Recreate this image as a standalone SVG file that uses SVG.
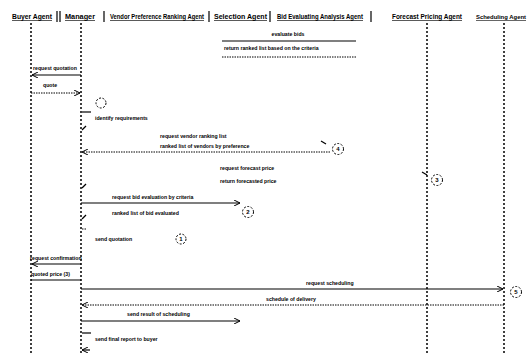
<svg xmlns="http://www.w3.org/2000/svg" width="530" height="354" viewBox="0 0 530 354">
<defs>
<style>
.hd{font-family:"Liberation Sans",Arial,sans-serif;font-size:6.5px;font-weight:bold;fill:#000;text-decoration:underline}
.sep{stroke:#000;stroke-width:1.2}
.life{stroke:#000;stroke-width:1.5;stroke-dasharray:2,2;fill:none}
.msg{font-family:"Liberation Sans",Arial,sans-serif;font-size:5.2px;font-weight:bold;fill:#000}
.solid{stroke:#000;stroke-width:1.2;fill:none}
.dot{stroke:#000;stroke-width:1;stroke-dasharray:1.5,1;fill:none}
.circ{stroke:#000;stroke-width:1;stroke-dasharray:2,1.5;fill:none}
.num{font-family:"Liberation Sans",Arial,sans-serif;font-size:6px;font-weight:bold;fill:#000;text-anchor:middle}
</style>
<marker id="ah" markerWidth="7" markerHeight="6" refX="6" refY="3" orient="auto" markerUnits="userSpaceOnUse">
<path d="M0,0 L6,3 L0,6" fill="none" stroke="#000" stroke-width="1"/>
</marker>
</defs>
<rect width="530" height="354" fill="#fff"/>
<g id="header">
<text class="hd" x="12" y="19" textLength="40" lengthAdjust="spacingAndGlyphs">Buyer Agent</text>
<line class="sep" x1="57" y1="11" x2="57" y2="22"/><line class="sep" x1="60" y1="11" x2="60" y2="22"/>
<text class="hd" x="65" y="19" textLength="30" lengthAdjust="spacingAndGlyphs">Manager</text>
<line class="sep" x1="104" y1="11" x2="104" y2="22"/>
<text class="hd" x="110" y="19" textLength="94" lengthAdjust="spacingAndGlyphs">Vendor Preference Ranking Agent</text>
<line class="sep" x1="209" y1="11" x2="209" y2="22"/>
<text class="hd" x="214" y="19" textLength="53" lengthAdjust="spacingAndGlyphs">Selection Agent</text>
<line class="sep" x1="270" y1="11" x2="270" y2="22"/>
<text class="hd" x="277" y="19" textLength="86" lengthAdjust="spacingAndGlyphs">Bid Evaluating Analysis Agent</text>
<line class="sep" x1="371" y1="11" x2="371" y2="22"/>
<text class="hd" x="392" y="19" textLength="70" lengthAdjust="spacingAndGlyphs">Forecast Pricing Agent</text>
<text class="hd" x="476" y="19" style="font-size:6px" textLength="50" lengthAdjust="spacingAndGlyphs">Scheduling Agent</text>
</g>
<g id="lifelines">
<line class="life" x1="31" y1="23" x2="31" y2="354"/>
<line class="life" x1="81" y1="23" x2="81" y2="354"/>
<line class="life" x1="427" y1="23" x2="427" y2="354"/>
<line class="life" x1="504" y1="23" x2="504" y2="354"/>
</g>
<g id="connectors">
<text class="msg" x="288" y="36" text-anchor="middle">evaluate bids</text>
<line class="solid" x1="222" y1="41" x2="356" y2="41"/>
<text class="msg" x="224" y="50">return ranked list based on the criteria</text>
<line class="dot" x1="222" y1="57" x2="357" y2="57"/>

<text class="msg" x="33" y="70">request quotation</text>
<line class="solid" x1="81" y1="75" x2="32" y2="75" marker-end="url(#ah)"/>
<text class="msg" x="43" y="87">quote</text>
<line class="dot" x1="31" y1="93" x2="80" y2="93" marker-end="url(#ah)"/>

<circle class="circ" cx="101" cy="103" r="5"/>
<line class="solid" x1="82" y1="112" x2="91" y2="112"/>
<text class="msg" x="95" y="120">identify requirements</text>
<line class="solid" x1="86" y1="126" x2="82" y2="130"/>

<text class="msg" x="160" y="138">request vendor ranking list</text>
<text class="msg" x="160" y="148">ranked list of vendors by preference</text>
<line class="dot" x1="330" y1="152" x2="82" y2="152" marker-end="url(#ah)"/>
<line class="solid" x1="321" y1="141" x2="326" y2="144"/>
<circle class="circ" cx="338" cy="149" r="5.5"/>
<text class="num" x="338" y="151">4</text>

<text class="msg" x="220" y="170">request forecast price</text>
<text class="msg" x="220" y="183">return forecasted price</text>
<line class="solid" x1="86" y1="184" x2="82" y2="188"/>
<line class="solid" x1="422" y1="172" x2="427" y2="175"/>
<circle class="circ" cx="437" cy="180" r="5.5"/>
<text class="num" x="437" y="182">3</text>

<text class="msg" x="112" y="199">request bid evaluation by criteria</text>
<line class="solid" x1="81" y1="203" x2="240" y2="203" marker-end="url(#ah)"/>
<circle class="circ" cx="248" cy="212" r="5.5"/>
<text class="num" x="248" y="214">2</text>
<text class="msg" x="112" y="215">ranked list of bid evaluated</text>
<line class="solid" x1="86" y1="215" x2="82" y2="219"/>

<line class="dot" x1="82" y1="229" x2="87" y2="229"/>
<text class="msg" x="95" y="241">send quotation</text>
<circle class="circ" cx="181" cy="239" r="5"/>
<text class="num" x="181" y="241">1</text>

<text class="msg" x="30" y="260">request confirmation</text>
<line class="solid" x1="81" y1="264" x2="32" y2="264" marker-end="url(#ah)"/>
<text class="msg" x="31" y="276">quoted price (3)</text>
<line class="solid" x1="31" y1="280" x2="81" y2="280"/>

<text class="msg" x="306" y="285">request scheduling</text>
<line class="solid" x1="81" y1="289" x2="503" y2="289" marker-end="url(#ah)"/>
<circle class="circ" cx="516" cy="292" r="5.5"/>
<text class="num" x="516" y="294">5</text>
<text class="msg" x="266" y="301">schedule of delivery</text>
<line class="dot" x1="504" y1="305" x2="82" y2="305" marker-end="url(#ah)"/>

<text class="msg" x="127" y="316">send result of scheduling</text>
<line class="solid" x1="81" y1="321" x2="240" y2="321" marker-end="url(#ah)"/>

<line class="solid" x1="82" y1="333" x2="91" y2="333"/>
<text class="msg" x="95" y="341">send final report to buyer</text>
<line class="solid" x1="90" y1="350" x2="82" y2="350" marker-end="url(#ah)"/>
</g>
</svg>
